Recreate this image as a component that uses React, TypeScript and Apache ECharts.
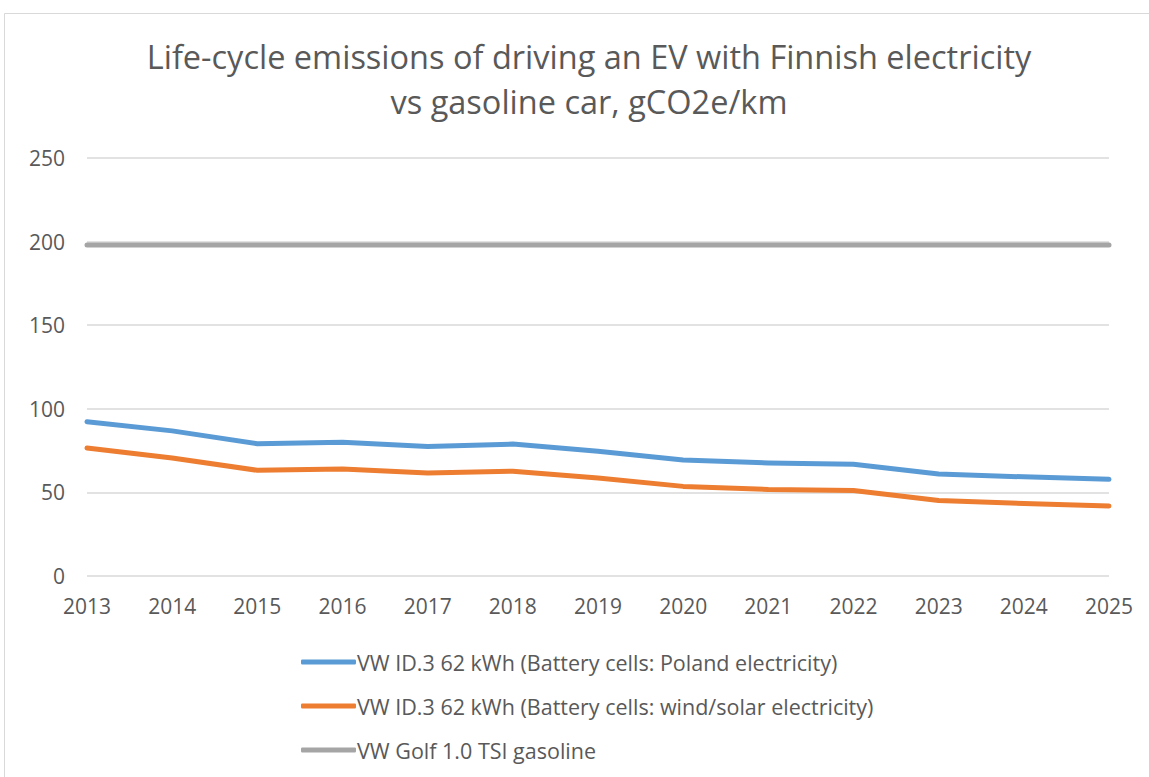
import React, { useEffect, useRef } from "react";
import * as echarts from "echarts";

const years = ["2013","2014","2015","2016","2017","2018","2019","2020","2021","2022","2023","2024","2025"];
const polandSeries = [92.2, 86.8, 79.1, 80.0, 77.5, 78.9, 74.6, 69.4, 67.6, 66.8, 61.0, 59.3, 57.8];
const windSolarSeries = [76.5, 70.6, 63.2, 64.0, 61.6, 62.7, 58.6, 53.6, 51.8, 51.2, 45.2, 43.4, 41.9];
const golfSeries = [198, 198, 198, 198, 198, 198, 198, 198, 198, 198, 198, 198, 198];
const seriesNames = [
  "VW ID.3 62 kWh (Battery cells: Poland electricity)",
  "VW ID.3 62 kWh (Battery cells: wind/solar electricity)",
  "VW Golf 1.0 TSI gasoline",
];
const titleText = "Life-cycle emissions of driving an EV with Finnish electricity\nvs gasoline car, gCO2e/km";

const FONT = "'Open Sans', sans-serif";
const TEXT_COLOR = "#595959";

export default function App() {
  const ref = useRef<HTMLDivElement>(null);
  useEffect(() => {
    if (!ref.current) return;
    const chart = echarts.init(ref.current, null, { renderer: "svg" });
    const mk = (name: string, data: number[], color: string) => ({
      name,
      type: "line",
      data,
      symbol: "none",
      lineStyle: { width: 5, color, cap: "round", join: "round" },
      itemStyle: { color },
    });
    chart.setOption({
      animation: false,
      backgroundColor: "#ffffff",
      textStyle: { fontFamily: FONT },
      title: {
        text: titleText,
        left: 584,
        textAlign: "center",
        top: 29,
        textStyle: {
          fontFamily: FONT,
          fontSize: 32.5,
          fontWeight: "normal",
          color: TEXT_COLOR,
          lineHeight: 45,
        },
      },
      graphic: [
        {
          type: "rect",
          shape: { x: 4.5, y: 13.5, width: 1300, height: 900 },
          style: { fill: "none", stroke: "#d9d9d9", lineWidth: 1 },
          silent: true,
        },
      ],
      grid: { left: 87, right: 40, top: 158, bottom: 201, containLabel: false },
      xAxis: {
        type: "category",
        data: years,
        boundaryGap: false,
        axisLine: { show: false },
        axisTick: { show: false },
        axisLabel: { color: TEXT_COLOR, fontSize: 21, fontFamily: FONT, margin: 19 },
      },
      yAxis: {
        type: "value",
        min: 0,
        max: 250,
        interval: 50,
        axisLine: { show: false },
        axisTick: { show: false },
        axisLabel: { color: TEXT_COLOR, fontSize: 21, fontFamily: FONT, margin: 22 },
        splitLine: { lineStyle: { color: "#d9d9d9", width: 1.5 } },
      },
      legend: {
        orient: "vertical",
        left: 296,
        top: 645,
        itemWidth: 55,
        itemHeight: 5,
        itemGap: 20,
        icon: "roundRect",
        data: seriesNames,
        textStyle: { color: TEXT_COLOR, fontSize: 21.5, fontFamily: FONT, padding: [0, 0, 0, -4], lineHeight: 24 },
      },
      series: [
        mk(seriesNames[0], polandSeries, "#5b9bd5"),
        mk(seriesNames[1], windSolarSeries, "#ed7d31"),
        mk(seriesNames[2], golfSeries, "#a5a5a5"),
      ],
    });
    return () => chart.dispose();
  }, []);
  return (
    <div
      ref={ref}
      style={{ position: "fixed", left: 0, top: 0, width: 1149, height: 777, background: "#fff" }}
    />
  );
}
